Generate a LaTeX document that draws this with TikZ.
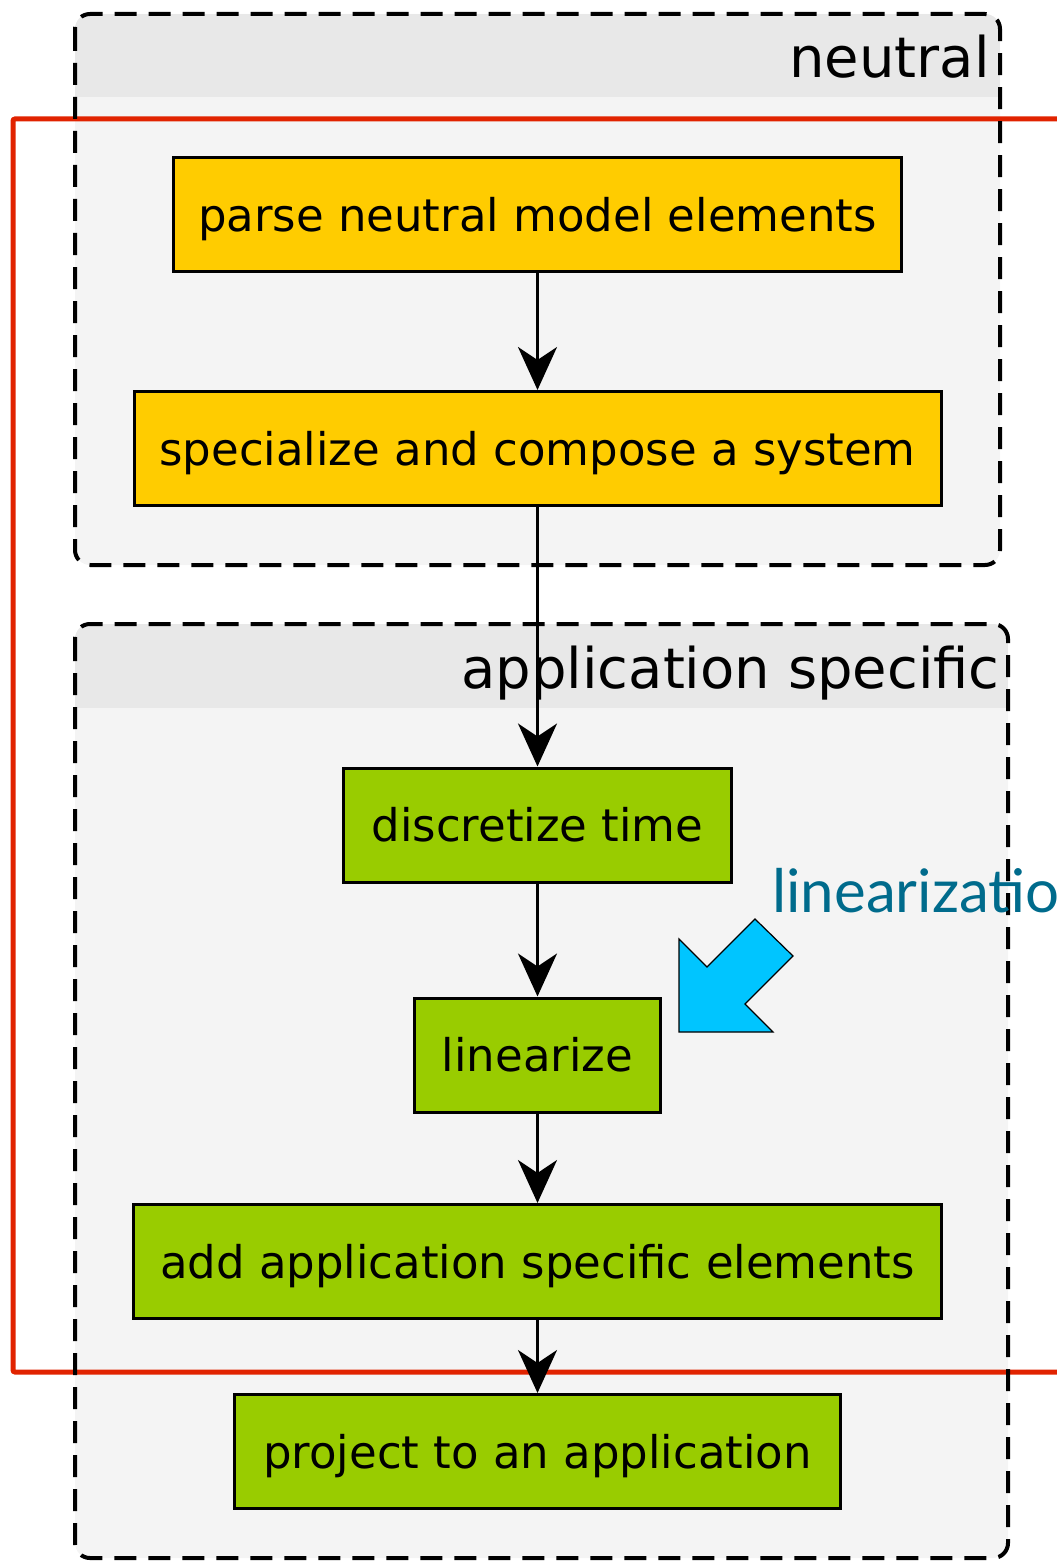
\documentclass[tikz,border=0pt]{standalone}
\usepackage{fontspec}
\setmainfont{DejaVu Sans}
\newfontfamily\notefont{Lato}
\usetikzlibrary{arrows.meta}

\definecolor{stepyellow}{HTML}{FFCC00}
\definecolor{stepgreen}{HTML}{99CC00}
\definecolor{groupbody}{HTML}{F4F4F4}
\definecolor{grouphead}{HTML}{E8E8E8}
\definecolor{frame}{HTML}{E12300}
\definecolor{hintblue}{HTML}{00C5FF}
\definecolor{hintteal}{HTML}{006B8C}

\begin{document}
\begin{tikzpicture}[x=0.5pt,y=-0.5pt,
  stepbox/.style={draw=black, line width=1.5pt, inner sep=0pt,
    minimum height=57pt, font=\fontsize{22.5}{26}\selectfont,
    text height=19.4pt, text depth=2.6pt},
  neutralstep/.style={stepbox, fill=stepyellow},
  appstep/.style={stepbox, fill=stepgreen},
  flow/.style={line width=1.5pt,
    -{Stealth[length=21.5pt,width=19.5pt,inset=6.5pt]}},
  groupline/.style={draw=black, line width=2pt, dash pattern=on 11pt off 6pt,
    rounded corners=7.5pt},
  grouplabel/.style={font=\fontsize{28}{32}\selectfont, inner sep=0pt, anchor=base east},
]
\useasboundingbox (0,0) rectangle (1056,1562);

% group backgrounds with their header bands
\fill[groupbody, rounded corners=7.5pt] (75,14) rectangle (1000,565);
\begin{scope}
  \clip[rounded corners=7.5pt] (75,14) rectangle (1000,565);
  \fill[grouphead] (75,14) rectangle (1000,97);
\end{scope}
\fill[groupbody, rounded corners=7.5pt] (75,624) rectangle (1008,1558);
\begin{scope}
  \clip[rounded corners=7.5pt] (75,624) rectangle (1008,1558);
  \fill[grouphead] (75,624) rectangle (1008,708);
\end{scope}

% red highlight frame
\draw[frame, line width=2.5pt, rounded corners=1pt] (13,119) rectangle (1100,1372);

% dashed group outlines
\draw[groupline] (75,14) rectangle (1000,565);
\draw[groupline] (75,624) rectangle (1008,1558);

% group titles
\node[grouplabel] (neutralT) at (990,78) {neutral};
\node[grouplabel] (appT) at (1000,688) {application specific};

% process steps
\node[neutralstep, minimum width=364pt]   (parse) at (537.5,214.5) {parse neutral model elements};
\node[neutralstep, minimum width=403.5pt] (spec)  at (537.5,448.5) {specialize and compose a system};
\node[appstep, minimum width=194pt]       (disc)  at (537.5,825)   {discretize time};
\node[appstep, minimum width=123pt]       (lin)   at (537.5,1055)  {linearize};
\node[appstep, minimum width=404pt]       (add)   at (537.5,1261.5){add application specific elements};
\node[appstep, minimum width=303pt]       (proj)  at (537.5,1451.5){project to an application};

% connectors
\draw[flow] (parse.south) -- (spec.north);
\draw[flow] (spec.south) -- (disc.north);
\draw[flow] (disc.south) -- (lin.north);
\draw[flow] (lin.south) -- (add.north);
\draw[flow] (add.south) -- (proj.north);

% pointer arrow and note
\filldraw[fill=hintblue, draw=black, line width=0.6pt]
  (679,939) -- (707,967) -- (755,919) -- (793,956) -- (745,1004)
  -- (773,1032) -- (679,1032) -- cycle;
\node[font=\notefont\fontsize{30}{34}\selectfont, text=hintteal, inner sep=0pt,
  anchor=base west] (note) at (772,912) {linearizatio};
\end{tikzpicture}
\end{document}
